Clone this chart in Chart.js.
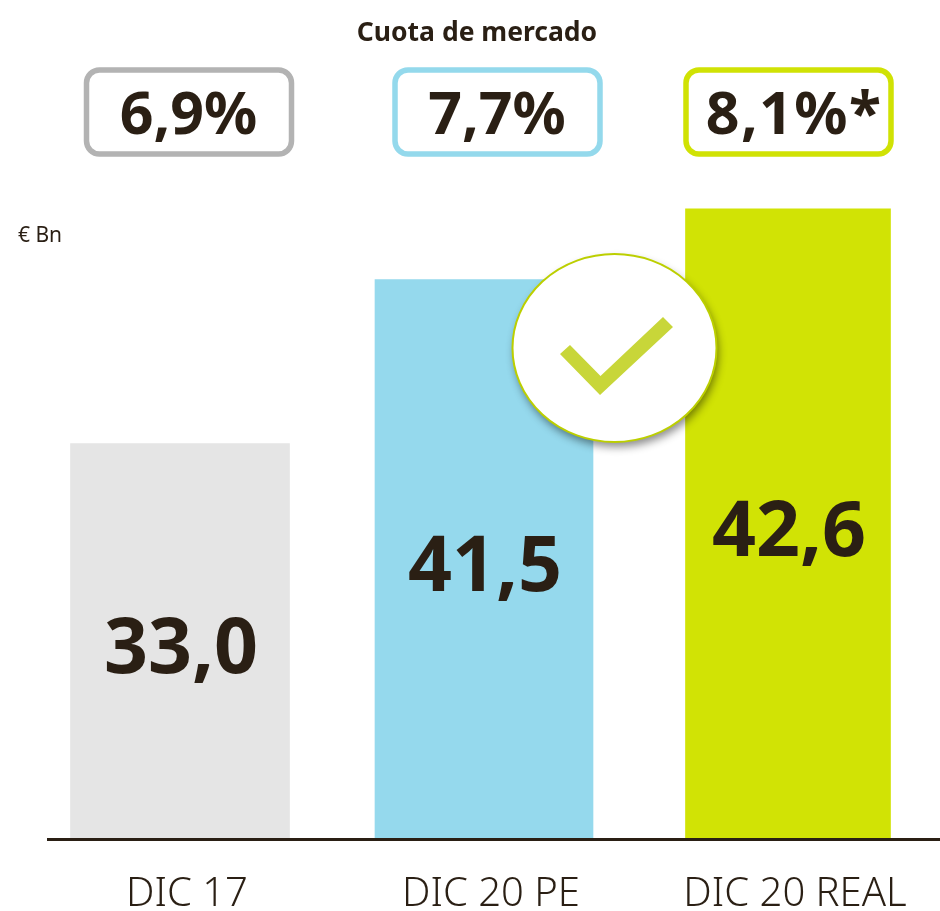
<!DOCTYPE html>
<html lang="es">
<head>
<meta charset="utf-8">
<title>Cuota de mercado</title>
<style>html,body{margin:0;padding:0;background:#fff}canvas{display:block}</style>
<script src="https://cdn.jsdelivr.net/npm/chart.js@4"></script>
</head>
<body>
<canvas id="c" width="940" height="911"></canvas>
<script>
const categories = ["DIC 17", "DIC 20 PE", "DIC 20 REAL"];
// Printed values, and the bar heights as drawn: the source graphic is not to scale,
// so heights are read from the picture in the same units as the first bar.
const valueLabels = ["33,0", "41,5", "42,6"];
const drawnHeights = [33.0, 46.7, 52.6];
const shareLabels = ["6,9%", "7,7%", "8,1%*"];
const barColors = ["#e5e5e5", "#95d9ed", "#d1e305"];
const boxColors = ["#b3b3b3", "#94d9ec", "#d0e204"];
const barWidths = [219, 218, 205];
const title = "Cuota de mercado";
const unitLabel = "€ Bn";
const INK = "#2a1f14";
const FONT = '"Noto Sans", sans-serif';

const decorations = {
  id: "decorations",
  afterDatasetsDraw(chart) {
    const { ctx, scales: { x, y } } = chart;
    const base = y.getPixelForValue(0);
    ctx.save();
    // baseline
    ctx.fillStyle = INK;
    ctx.fillRect(47, base - 1, 893, 3);
    // value labels inside bars
    ctx.textAlign = "center";
    ctx.textBaseline = "middle";
    ctx.font = "bold 77px " + FONT;
    valueLabels.forEach((t, i) => {
      ctx.fillText(t, x.getPixelForValue(i) + 1, y.getPixelForValue(drawnHeights[i] / 2) + 10);
    });
    // title
    ctx.font = "bold 26.5px " + FONT;
    ctx.fillText(title, 477, 33);
    // share boxes
    const boxLeft = [86.5, 395, 686];
    const spacing = ["0px", "0px", "1.4px"];
    const textShift = [0, 0, 6];
    shareLabels.forEach((t, i) => {
      ctx.beginPath();
      ctx.roundRect(boxLeft[i], 70, 205, 84, 13);
      ctx.fillStyle = "#fff";
      ctx.fill();
      ctx.lineWidth = 5.5;
      ctx.strokeStyle = boxColors[i];
      ctx.stroke();
      ctx.fillStyle = INK;
      ctx.font = "bold 59px " + FONT;
      ctx.letterSpacing = spacing[i];
      ctx.fillText(t, boxLeft[i] + 102 + textShift[i], 117);
      ctx.letterSpacing = "0px";
    });
    // unit
    ctx.font = "21px " + FONT;
    ctx.textAlign = "left";
    ctx.fillText(unitLabel, 18, 236);
    // badge
    ctx.save();
    ctx.shadowColor = "rgba(0,0,0,0.45)";
    ctx.shadowBlur = 9;
    ctx.shadowOffsetX = 2;
    ctx.shadowOffsetY = 5;
    ctx.beginPath();
    ctx.ellipse(614.5, 348, 102, 94, 0, 0, Math.PI * 2);
    ctx.fillStyle = "#fff";
    ctx.fill();
    ctx.restore();
    ctx.beginPath();
    ctx.ellipse(614.5, 348, 102, 94, 0, 0, Math.PI * 2);
    ctx.lineWidth = 2;
    ctx.strokeStyle = "#bccf00";
    ctx.stroke();
    ctx.beginPath();
    [[560, 354], [570, 345], [600.5, 376], [663, 317], [673, 327], [600, 395]].forEach((p, i) =>
      i ? ctx.lineTo(p[0], p[1]) : ctx.moveTo(p[0], p[1]));
    ctx.closePath();
    ctx.fillStyle = "#c8d639";
    ctx.fill();
    ctx.restore();
  }
};

new Chart(document.getElementById("c"), {
  type: "bar",
  data: {
    labels: categories,
    datasets: categories.map((c, i) => ({
      label: c,
      data: categories.map((_, j) => (j === i ? drawnHeights[j] : null)),
      backgroundColor: barColors[i],
      barThickness: barWidths[i],
      grouped: false
    }))
  },
  options: {
    responsive: false,
    animation: false,
    layout: { padding: { left: 28, right: 0, top: 204, bottom: 0 } },
    plugins: { legend: { display: false }, tooltip: { enabled: false } },
    scales: {
      x: {
        grid: { display: false },
        border: { display: false },
        afterFit(s) { s.height = 72; },
        ticks: {
          color: INK,
          maxRotation: 0,
          autoSkip: false,
          padding: 24,
          labelOffset: 7,
          font: { family: "Noto Sans", size: 40, weight: "300" }
        }
      },
      y: { display: false, min: 0, max: 53 }
    }
  },
  plugins: [decorations]
});
</script>
</body>
</html>
